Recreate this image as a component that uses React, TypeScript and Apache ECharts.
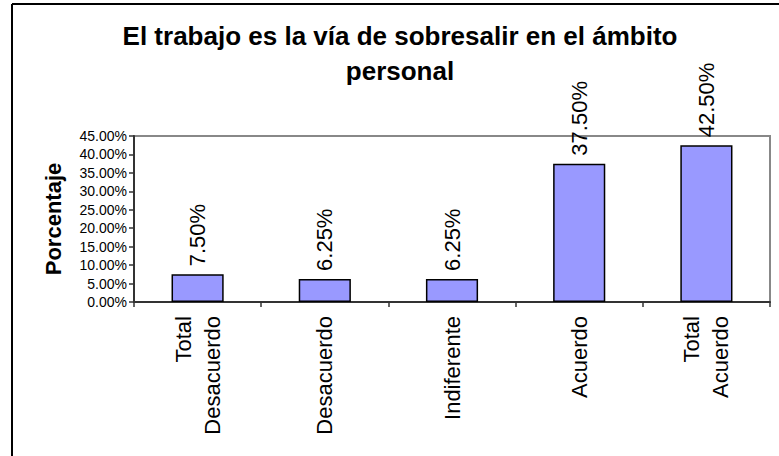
import React, { useEffect, useRef } from "react";
import * as echarts from "echarts";

const categories = ["Total\nDesacuerdo", "Desacuerdo", "Indiferente", "Acuerdo", "Total\nAcuerdo"];
const values = [7.5, 6.25, 6.25, 37.5, 42.5];
const yMin = 0;
const yMax = 45;
const yInterval = 5;
const titleText = "El trabajo es la vía de sobresalir en el ámbito\npersonal";
const yAxisName = "Porcentaje";

const FONT = "'Liberation Sans', Arial, sans-serif";

export default function App() {
  const ref = useRef<HTMLDivElement>(null);
  useEffect(() => {
    if (!ref.current) return;
    const chart = echarts.init(ref.current, undefined, { renderer: "svg" });
    chart.setOption({
      animation: false,
      backgroundColor: "#ffffff",
      title: {
        text: titleText,
        left: 395,
        textAlign: "center",
        top: 13,
        textStyle: {
          fontFamily: FONT,
          fontSize: 26,
          fontWeight: "bold",
          color: "#000",
          lineHeight: 35,
        },
      },
      graphic: [
        {
          type: "line",
          shape: { x1: 12, y1: 4, x2: 779, y2: 4 },
          style: { stroke: "#000", lineWidth: 2 },
          silent: true,
        },
        {
          type: "line",
          shape: { x1: 12, y1: 4, x2: 12, y2: 456 },
          style: { stroke: "#000", lineWidth: 2 },
          silent: true,
        },
      ],
      grid: {
        left: 134,
        top: 136,
        right: 9,
        bottom: 154,
        show: true,
        borderColor: "#888",
        borderWidth: 2,
        backgroundColor: "#fff",
      },
      xAxis: {
        type: "category",
        data: categories,
        axisLine: { show: true, lineStyle: { color: "#333", width: 2 } },
        axisTick: { show: true, length: 5, lineStyle: { color: "#333", width: 1.5 } },
        axisLabel: {
          rotate: 90,
          fontFamily: FONT,
          fontSize: 22,
          lineHeight: 29,
          color: "#000",
          margin: 14,
          interval: 0,
        },
      },
      yAxis: {
        type: "value",
        min: yMin,
        max: yMax,
        interval: yInterval,
        name: yAxisName,
        nameLocation: "middle",
        nameRotate: 90,
        nameGap: 70,
        nameTextStyle: {
          fontFamily: FONT,
          fontSize: 22,
          fontWeight: "bold",
          color: "#000",
        },
        axisLine: { show: true, lineStyle: { color: "#333", width: 2 } },
        axisTick: { show: true, length: 5, lineStyle: { color: "#333", width: 1.5 } },
        splitLine: { show: false },
        axisLabel: {
          fontFamily: FONT,
          fontSize: 14,
          color: "#000",
          margin: 7,
          formatter: (v: number) => v.toFixed(2) + "%",
        },
      },
      series: [
        {
          type: "bar",
          data: values,
          barWidth: "41%",
          itemStyle: { color: "#9999FF", borderColor: "#000", borderWidth: 1.5 },
          label: {
            show: true,
            position: "top",
            rotate: 90,
            align: "left",
            verticalAlign: "middle",
            distance: 8,
            fontFamily: FONT,
            fontSize: 22,
            color: "#000",
            formatter: (p: any) => Number(p.value).toFixed(2) + "%",
          },
        },
      ],
    });
    return () => chart.dispose();
  }, []);
  return (
    <div
      ref={ref}
      style={{ position: "fixed", left: 0, top: 0, width: 779, height: 456 }}
    />
  );
}
